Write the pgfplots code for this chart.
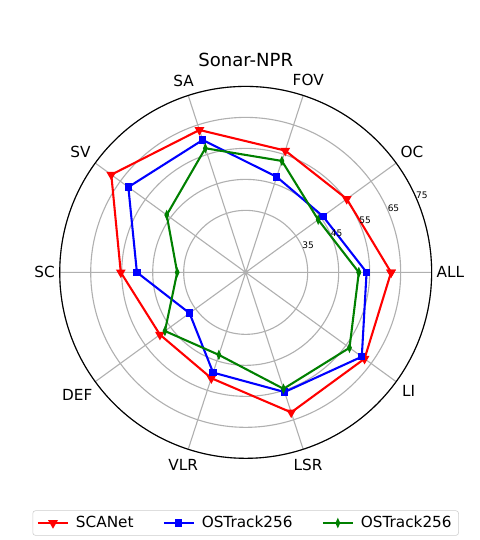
\documentclass[border=0pt]{standalone}
\usepackage{pgfplots}
\pgfplotsset{compat=1.18}
\usepgfplotslibrary{polar}
\usepackage{fontspec}
\setmainfont{DejaVu Sans}
\definecolor{mred}{HTML}{FF0000}
\definecolor{mblue}{HTML}{0000FF}
\definecolor{mgreen}{HTML}{008000}
\definecolor{mgrid}{HTML}{B0B0B0}
\definecolor{lframe}{HTML}{CCCCCC}
\begin{document}
\begin{tikzpicture}
\useasboundingbox (0,0) rectangle (345.6bp,388.8bp);
\begin{polaraxis}[
  at={(176.9bp,192.7bp)}, anchor=center,
  width=267.8bp, height=267.8bp, scale only axis,
  xmin=0, xmax=360, ymin=0, ymax=60,
  xtick={0,36,72,108,144,180,216,252,288,324},
  xticklabels={ALL,OC,FOV,SA,SV,SC,DEF,VLR,LSR,LI},
  xticklabel style={font=\fontsize{11bp}{13bp}\selectfont},
  ytick={20,30,40,50,60},
  yticklabels={},
  y tick label style={opacity=0, text opacity=0},
  xmajorgrids, ymajorgrids,
  major tick length=0pt,
  grid style={draw=mgrid, line width=0.8bp},
  axis line style={black, line width=0.8bp},
  y axis line style={draw=none},
  y filter/.expression={y-15},
  clip=false,
  title={Sonar-NPR},
  title style={at={(0.5,1)}, anchor=base, yshift=0bp, font=\fontsize{13bp}{15bp}\selectfont},
  legend columns=3,
  legend style={at={(0.5,-0.174)}, anchor=center, draw=lframe, rounded corners=2bp,
    font=\fontsize{11bp}{13bp}\selectfont,
    /tikz/every odd column/.append style={column sep=3bp},
    /tikz/every even column/.append style={column sep=19bp}},
  legend image code/.code={\draw[mark repeat=2,mark phase=2,#1] plot coordinates {(0bp,0bp) (10.8bp,0bp) (21.6bp,0bp)};},
]
\addplot[mred, line width=1.5bp, mark=triangle*, mark size=2.6bp, mark options={rotate=180, solid}]
coordinates {(0,61.9) (36,55.3) (72,56.3) (108,63.3) (144,68.6) (180,55.3) (216,49.2) (252,50.9) (288,62.5) (324,62.4) (360,61.9)};
\addlegendentry{SCANet}
\addplot[mblue, line width=1.5bp, mark=square*, mark size=1.9bp, mark options={solid}]
coordinates {(0,54.0) (36,45.8) (72,47.4) (108,59.9) (144,61.8) (180,50.1) (216,37.4) (252,49.0) (288,55.6) (324,61.3) (360,54.0)};
\addlegendentry{OSTrack256}
\addplot[mgreen, line width=1.5bp, mark=diamond*, mark size=2.0bp, mark options={xscale=0.6, solid}]
coordinates {(0,51.5) (36,43.9) (72,52.8) (108,57.1) (144,46.5) (180,37.1) (216,47.2) (252,43.0) (288,54.5) (324,56.4) (360,51.5)};
\addlegendentry{OSTrack256}
\node[font=\fontsize{6.5bp}{8bp}\selectfont, inner sep=0pt] at (axis cs:23.5,22) {35};
\node[font=\fontsize{6.5bp}{8bp}\selectfont, inner sep=0pt] at (axis cs:23.5,32) {45};
\node[font=\fontsize{6.5bp}{8bp}\selectfont, inner sep=0pt] at (axis cs:23.5,42) {55};
\node[font=\fontsize{6.5bp}{8bp}\selectfont, inner sep=0pt] at (axis cs:23.5,52) {65};
\node[font=\fontsize{6.5bp}{8bp}\selectfont, inner sep=0pt] at (axis cs:23.5,62) {75};
\end{polaraxis}
\end{tikzpicture}
\end{document}
